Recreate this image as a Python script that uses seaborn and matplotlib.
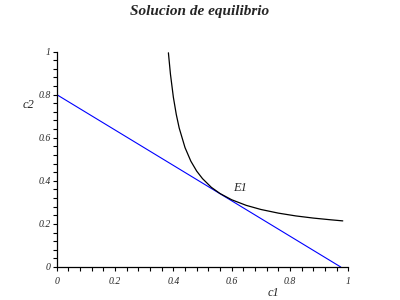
import matplotlib
matplotlib.use("Agg")
import matplotlib.pyplot as plt
import seaborn as sns
import pandas as pd
from matplotlib.ticker import MultipleLocator, FixedLocator, FixedFormatter

# Budget line (blue)
budget_c1 = [0.0, 0.974]
budget_c2 = [0.8, 0.0]

# Indifference curve (black)
curve_c1 = [0.383, 0.39, 0.40, 0.41, 0.42, 0.44, 0.46, 0.48, 0.50, 0.53,
            0.56, 0.60, 0.65, 0.70, 0.76, 0.82, 0.88, 0.94, 0.981]
curve_c2 = [0.994, 0.895, 0.788, 0.708, 0.645, 0.554, 0.491, 0.445, 0.410, 0.370,
            0.341, 0.312, 0.286, 0.267, 0.250, 0.237, 0.227, 0.219, 0.214]

tick_values = [0, 0.2, 0.4, 0.6, 0.8, 1]
tick_labels = ["0", "0.2", "0.4", "0.6", "0.8", "1"]

title = "Solucion de equilibrio"
point_label = "E1"
point_c1, point_c2 = 0.605, 0.367

sns.set_style("white")
plt.rcParams['font.family'] = ['Liberation Serif', 'DejaVu Serif']

fig = plt.figure(figsize=(4, 3), dpi=100)
ax = fig.add_axes([0.1418, 0.11, 0.729, 0.7183])

df_b = pd.DataFrame({"c1": budget_c1, "c2": budget_c2})
df_c = pd.DataFrame({"c1": curve_c1, "c2": curve_c2})
sns.lineplot(data=df_b, x="c1", y="c2", color="#0000ff", lw=0.8, ax=ax,
             sort=False, estimator=None)
sns.lineplot(data=df_c, x="c1", y="c2", color="black", lw=0.9, ax=ax,
             sort=False, estimator=None)

ax.set_xlim(0, 1)
ax.set_ylim(0, 1)
ax.set_xlabel("")
ax.set_ylabel("")

for side in ["top", "right"]:
    ax.spines[side].set_visible(False)
for side in ["left", "bottom"]:
    ax.spines[side].set_color("black")
    ax.spines[side].set_linewidth(0.9)

for axis in (ax.xaxis, ax.yaxis):
    axis.set_major_locator(FixedLocator(tick_values))
    axis.set_major_formatter(FixedFormatter(tick_labels))
    axis.set_minor_locator(MultipleLocator(0.04))

ax.tick_params(which="both", direction="out", length=3, width=0.8, color="black")
ax.tick_params(axis="x", which="both", bottom=True, pad=4.5)
ax.tick_params(axis="y", which="both", left=True, pad=1.5)
for lbl in ax.get_xticklabels() + ax.get_yticklabels():
    lbl.set_fontstyle("italic")
    lbl.set_fontsize(7)

ax.text(point_c1, point_c2, point_label, fontsize=9, fontstyle="italic",
        ha="left", va="center")
ax.text(-0.098, 0.752, "c2", fontsize=9, fontstyle="italic",
        ha="center", va="center", clip_on=False)
ax.text(0.742, -0.147, "c1", fontsize=9, fontstyle="italic",
        ha="center", va="bottom", clip_on=False)

fig.text(0.5, 0.96, title, fontsize=11, fontweight="bold", fontstyle="italic",
         ha="center", va="center")

fig.savefig("out.png", dpi=100, facecolor="white")
